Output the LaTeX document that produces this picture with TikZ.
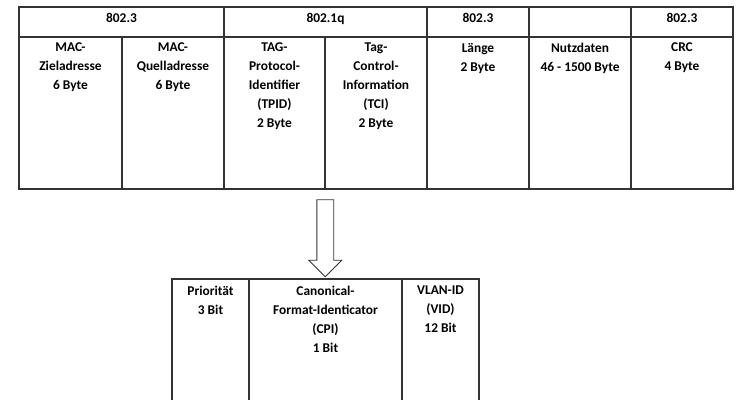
\documentclass[tikz,border=0pt]{standalone}
\usepackage{fontspec}
\setmainfont{Carlito}
\usetikzlibrary{positioning,shapes.arrows,calc}
\definecolor{linegray}{HTML}{333333}
\tikzset{
	cell/.style={draw=linegray,line width=1.3pt,rectangle,inner sep=0,outer sep=0,anchor=north west},
	lbl/.style={font=\bfseries\fontsize{13.4}{19}\selectfont,align=center,inner sep=0,outer sep=0},
	blockarrow/.style={single arrow,draw=linegray,line width=0.9pt,fill=white,inner xsep=0,inner ysep=8pt,minimum width=32pt,minimum height=77pt,single arrow head extend=8pt,single arrow head indent=0pt,rotate=-90}
}
\begin{document}
\begin{tikzpicture}[x=1pt,y=-1pt]
	\useasboundingbox (0,0) rectangle (739,399);
	\node[cell,minimum width=205pt,minimum height=30pt] (h1) at (19,7) {};
	\node[cell,minimum width=203pt,minimum height=30pt] (h2) at (224,7) {};
	\node[cell,minimum width=102pt,minimum height=30pt] (h3) at (427,7) {};
	\node[cell,minimum width=102pt,minimum height=30pt] (h4) at (529,7) {};
	\node[cell,minimum width=102pt,minimum height=30pt] (h5) at (631,7) {};
	\node[cell,minimum width=103pt,minimum height=152pt] (mz) at (19,37) {};
	\node[cell,minimum width=102pt,minimum height=152pt] (mq) at (122,37) {};
	\node[cell,minimum width=101pt,minimum height=152pt] (tpid) at (224,37) {};
	\node[cell,minimum width=102pt,minimum height=152pt] (tci) at (325,37) {};
	\node[cell,minimum width=102pt,minimum height=152pt] (len) at (427,37) {};
	\node[cell,minimum width=102pt,minimum height=152pt] (data) at (529,37) {};
	\node[cell,minimum width=102pt,minimum height=152pt] (crc) at (631,37) {};
	\node[lbl,below=6pt of h1.north] (h1txt) {802.3};
	\node[lbl,below=6pt of h2.north] (h2txt) {802.1q};
	\node[lbl,below=6pt of h3.north] (h3txt) {802.3};
	\node[lbl,below=6pt of h5.north] (h5txt) {802.3};
	\node[lbl,below=6pt of mz.north] (mztxt) {MAC-\\Zieladresse\\6 Byte};
	\node[lbl,below=6pt of mq.north] (mqtxt) {MAC-\\Quelladresse\\6 Byte};
	\node[lbl,below=6pt of tpid.north] (tpidtxt) {TAG-\\Protocol-\\Identifier\\(TPID)\\2 Byte};
	\node[lbl,below=6pt of tci.north] (tcitxt) {Tag-\\Control-\\Information\\(TCI)\\2 Byte};
	\node[lbl,below=6pt of len.north] (lentxt) {Länge\\2 Byte};
	\node[lbl,below=6pt of data.north] (datatxt) {Nutzdaten\\46 - 1500 Byte};
	\node[lbl,below=6pt of crc.north] (crctxt) {CRC\\4 Byte};
	\node[cell,minimum width=77pt,minimum height=130pt] (prio) at (172,279) {};
	\node[cell,minimum width=153pt,minimum height=130pt] (cpi) at (249,279) {};
	\node[cell,minimum width=77pt,minimum height=130pt] (vid) at (402,279) {};
	\node[lbl,below=7pt of prio.north] (priotxt) {Priorität\\3 Bit};
	\node[lbl,below=7pt of cpi.north] (cpitxt) {Canonical-\\Format-Identicator\\(CPI)\\1 Bit};
	\node[lbl,below=7pt of vid.north] (vidtxt) {VLAN-ID\\(VID)\\12 Bit};
	\node[blockarrow] (arr) at ($(tpid.south east)!0.5!(cpi.north)$) {};
\end{tikzpicture}
\end{document}
